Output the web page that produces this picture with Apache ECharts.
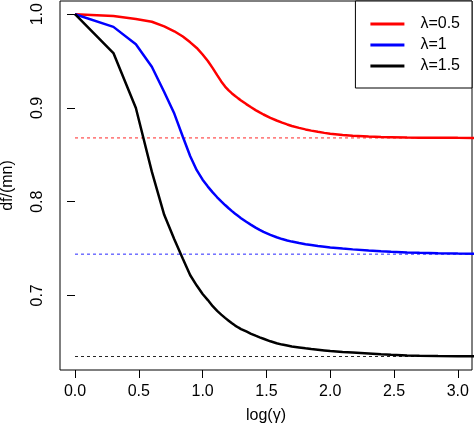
<!DOCTYPE html>
<html>
<head>
<meta charset="utf-8">
<script src="https://cdn.jsdelivr.net/npm/echarts@6/dist/echarts.min.js"></script>
<style>
html,body{margin:0;padding:0;background:#fff;}
#c{width:474px;height:426px;}
</style>
</head>
<body>
<div id="c"></div>
<script>
// x = log(gamma)
var logGamma = [0, 0.301, 0.477, 0.602, 0.699, 0.778, 0.845, 0.903, 0.954, 1.0, 1.041, 1.079, 1.114, 1.146, 1.176, 1.204, 1.23, 1.255, 1.279, 1.301, 1.342, 1.38, 1.415, 1.447, 1.477, 1.531, 1.58, 1.623, 1.663, 1.699, 1.756, 1.806, 1.851, 1.903, 1.954, 2.0, 2.097, 2.176, 2.301, 2.398, 2.477, 2.602, 2.699, 2.845, 3.0, 3.301];
var lambda05 = [1.000, 0.998, 0.995, 0.992, 0.987, 0.9818, 0.9762, 0.970, 0.964, 0.957, 0.950, 0.9425, 0.935, 0.9283, 0.9228, 0.9187, 0.9155, 0.9127, 0.9102, 0.908, 0.9041, 0.9007, 0.8977, 0.8952, 0.893, 0.8895, 0.8866, 0.8843, 0.8824, 0.8808, 0.8787, 0.8771, 0.8758, 0.8745, 0.8734, 0.8725, 0.8711, 0.8703, 0.8694, 0.8689, 0.8687, 0.8684, 0.8683, 0.8682, 0.8681, 0.868];
var lambda1  = [1.000, 0.9865, 0.968, 0.944, 0.917, 0.894, 0.8693, 0.8484, 0.8336, 0.8235, 0.8161, 0.8099, 0.8047, 0.8003, 0.7964, 0.7930, 0.7899, 0.7871, 0.7846, 0.7824, 0.7785, 0.7752, 0.7723, 0.7699, 0.7678, 0.7645, 0.7620, 0.7601, 0.7586, 0.7574, 0.7558, 0.7546, 0.7538, 0.7528, 0.752, 0.7512, 0.7500, 0.7491, 0.7479, 0.7471, 0.7465, 0.7458, 0.7454, 0.7449, 0.7446, 0.7443];
var lambda15 = [1.000, 0.9586, 0.900, 0.832, 0.786, 0.760, 0.739, 0.7215, 0.7105, 0.7015, 0.695, 0.6885, 0.6835, 0.6795, 0.676, 0.673, 0.6702, 0.6678, 0.6658, 0.6641, 0.6615, 0.659, 0.657, 0.6552, 0.6537, 0.651, 0.649, 0.6475, 0.6465, 0.6455, 0.6445, 0.6435, 0.6427, 0.642, 0.6413, 0.6406, 0.6396, 0.639, 0.638, 0.6372, 0.6366, 0.636, 0.6357, 0.6353, 0.635, 0.6349];
var asymptotes = [0.868, 0.744, 0.6348];
var seriesNames = ['λ=0.5', 'λ=1', 'λ=1.5'];
var seriesColors = ['#ff0000', '#0000ff', '#000000'];
var xTicks = [0, 0.5, 1.0, 1.5, 2.0, 2.5, 3.0];
var yTicks = [0.7, 0.8, 0.9, 1.0];

var curves = [lambda05, lambda1, lambda15];
var FONT = 'Liberation Sans, Arial, Helvetica, sans-serif';
var X_MIN = -0.1176, X_MAX = 3.111, Y_MIN = 0.6204, Y_MAX = 1.0141;

function pairs(xs, ys) { return xs.map(function (x, i) { return [x, ys[i]]; }); }

var series = [];
asymptotes.forEach(function (v, i) {
  series.push({
    type: 'line', symbol: 'none', silent: true,
    color: seriesColors[i],
    data: [[logGamma[0], v], [logGamma[logGamma.length - 1], v]],
    itemStyle: { color: seriesColors[i] },
    lineStyle: { color: seriesColors[i], width: 1, type: [3, 3], opacity: 0.85 },
    z: 2
  });
});
curves.forEach(function (ys, i) {
  series.push({
    name: seriesNames[i], type: 'line', symbol: 'none',
    color: seriesColors[i],
    data: pairs(logGamma, ys),
    lineStyle: { color: seriesColors[i], width: 2.5 },
    itemStyle: { color: seriesColors[i] },
    z: 3
  });
});

var chart = echarts.init(document.getElementById('c'), null, { renderer: 'canvas' });
chart.setOption({
  animation: false,
  backgroundColor: '#fff',
  textStyle: { fontFamily: FONT },
  grid: { left: 60, right: 2, top: 1, bottom: 56, show: true, borderColor: '#000', borderWidth: 1, backgroundColor: 'transparent', containLabel: false, outerBoundsMode: 'none' },
  legend: {
    data: seriesNames,
    orient: 'vertical',
    right: 2, top: 1,
    itemWidth: 34, itemHeight: 14, itemGap: 5,
    padding: [15, 12, 14, 15],
    borderColor: '#000', borderWidth: 1, backgroundColor: '#fff',
    textStyle: { fontFamily: FONT, fontSize: 16, color: '#000', padding: [0, 0, 0, 11] },
    icon: 'path://M0,0 L34,0 L34,3 L0,3 Z'
  },
  xAxis: {
    type: 'value', min: X_MIN, max: X_MAX,
    name: 'log(γ)', nameLocation: 'middle', nameGap: 38,
    nameTextStyle: { fontFamily: FONT, fontSize: 16, color: '#000' },
    axisLine: { show: false },
    axisTick: { show: true, inside: false, length: 8, customValues: xTicks, lineStyle: { color: '#000', width: 1 } },
    axisLabel: { customValues: xTicks, margin: 14, fontSize: 16, color: '#000', fontFamily: FONT,
      formatter: function (v) { return v.toFixed(1); } },
    splitLine: { show: false }
  },
  yAxis: {
    type: 'value', min: Y_MIN, max: Y_MAX,
    name: 'df/(mn)', nameLocation: 'middle', nameGap: 44, nameMoveOverlap: false,
    nameTextStyle: { fontFamily: FONT, fontSize: 16, color: '#000' },
    axisLine: { show: false },
    axisTick: { show: true, inside: false, length: 8, customValues: yTicks, lineStyle: { color: '#000', width: 1 } },
    axisLabel: { show: false },
    splitLine: { show: false }
  },
  series: series
});

// vertical (rotated) y tick labels placed through the chart's own scale
var yLabelGraphics = yTicks.map(function (v) {
  var p = chart.convertToPixel({ gridIndex: 0 }, [X_MIN, v]);
  return {
    type: 'text', x: p[0] - 22.5, y: p[1], rotation: Math.PI / 2, silent: true,
    style: { text: v.toFixed(1), font: '16px ' + FONT, fill: '#000', align: 'center', verticalAlign: 'middle' }
  };
});
chart.setOption({ graphic: yLabelGraphics });
</script>
</body>
</html>
